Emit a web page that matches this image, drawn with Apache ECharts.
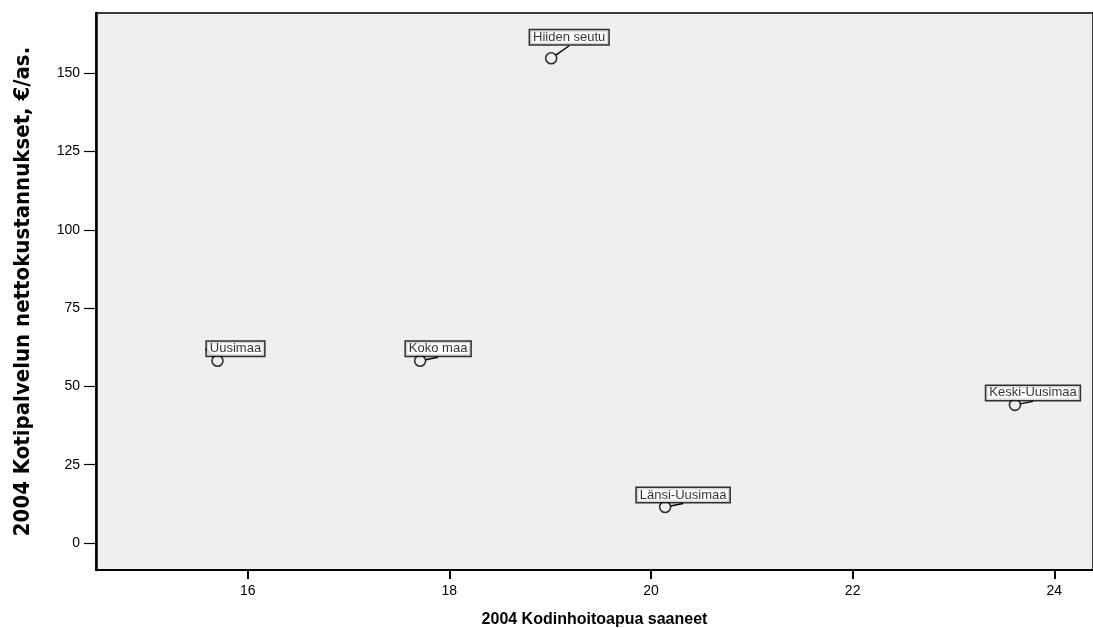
<!DOCTYPE html>
<html><head><meta charset="utf-8">
<script src="https://cdn.jsdelivr.net/npm/echarts@6/dist/echarts.min.js"></script>
<style>html,body{margin:0;padding:0;background:#fff}#c{width:1093px;height:628px}</style>
</head><body><div id="c"></div>
<script>
const names = ["Uusimaa","Koko maa","Hiiden seutu","Länsi-Uusimaa","Keski-Uusimaa"];
const xValues = [15.70, 17.71, 19.01, 20.14, 23.61];
const yValues = [58.2, 58.2, 154.8, 11.5, 44.1];
const xTicks = [16,18,20,22,24];
const yTicks = [0,25,50,75,100,125,150];
const xTitle = "2004 Kodinhoitoapua saaneet";
const yTitle = "2004 Kotipalvelun nettokustannukset, €/as.";

const data = names.map((n,i)=>({name:n, value:[xValues[i], yValues[i]]}));
const chart = echarts.init(document.getElementById('c'), null, {renderer:'canvas'});
chart.setOption({
  animation:false,
  grid:{left:96,right:0,top:13,bottom:58,outerBoundsMode:'none',containLabel:false,show:true,backgroundColor:'#efefef',borderColor:'#000',borderWidth:1.5},
  xAxis:{type:'value',min:14.495,max:24.384,
    name:xTitle,nameLocation:'middle',nameGap:42,
    nameTextStyle:{fontFamily:'Liberation Sans',fontWeight:'bold',fontSize:16,color:'#000'},
    splitLine:{show:false},
    axisLine:{show:true,onZero:false,lineStyle:{color:'#000',width:2}},
    axisTick:{show:true,length:9,lineStyle:{color:'#000',width:2},customValues:xTicks},
    axisLabel:{customValues:xTicks,fontFamily:'Liberation Sans',fontSize:14,color:'#000',margin:14}
  },
  yAxis:{type:'value',min:-8.62,max:169.26,
    name:yTitle,nameLocation:'middle',nameGap:62,
    nameTextStyle:{fontFamily:'DejaVu Sans Condensed',fontWeight:'bold',fontSize:22,color:'#000'},
    splitLine:{show:false},
    axisLine:{show:true,onZero:false,lineStyle:{color:'#000',width:2.5}},
    axisTick:{show:true,length:12,lineStyle:{color:'#000',width:1.2},customValues:yTicks},
    axisLabel:{customValues:yTicks,fontFamily:'Liberation Sans',fontSize:14,color:'#000',margin:16}
  },
  series:[{
    type:'scatter',
    data:data,
    symbol:'circle',symbolSize:11,
    itemStyle:{color:'rgba(0,0,0,0)',borderColor:'#000',borderWidth:1.6},
    label:{show:true,position:'inside',formatter:'{b}',
      fontFamily:'Liberation Sans',fontSize:13,color:'#000',
      backgroundColor:'#fff',borderColor:'#000',borderWidth:1.5,padding:[1,3,0,3]},
    labelLayout:function(p){
      const dy = p.dataIndex===2 ? -21 : -12;
      return {dx:18, dy:dy};
    },
    labelLine:{show:true,lineStyle:{color:'#000',width:1.4}},
    emphasis:{disabled:true}
  }]
});
</script></body></html>
